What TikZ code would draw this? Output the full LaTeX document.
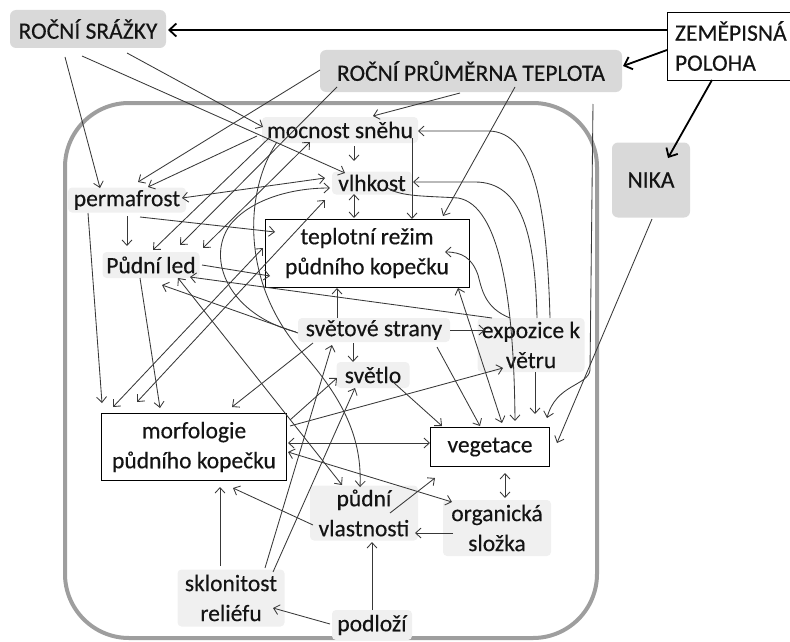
\documentclass[tikz,border=0pt]{standalone}
\usepackage{fontspec}
\setmainfont{Carlito}[FakeBold=0.35]
\usetikzlibrary{arrows.meta}
\newcommand\nd[3]{([shift={(#2,#3)}]#1.center)}
\begin{document}
\begin{tikzpicture}[x=1pt,y=-1pt,
  every node/.style={font=\fontsize{23.5}{30}\selectfont, text=black!92, inner sep=0pt},
  topbox/.style={fill=black!15, rounded corners=6pt},
  softbox/.style={fill=black!6, rounded corners=4pt},
  whitebox/.style={draw=black, fill=white, line width=0.8pt},
  frame/.style={draw=black!38, line width=4pt, rounded corners=64pt},
  arr/.style={draw=black!78, line width=0.85pt, -{Straight Barb[length=5.5pt,width=10pt]}},
  darr/.style={draw=black!78, line width=0.85pt, {Straight Barb[length=5.5pt,width=10pt]}-{Straight Barb[length=5.5pt,width=10pt]}},
  thk/.style={draw=black, line width=1.8pt, -{Straight Barb[length=7pt,width=13pt]}}]
\useasboundingbox (0,0) rectangle (790,642);
\draw[frame] (65,103) rectangle (597,638);

% nodes
\node[topbox, minimum width=156pt, minimum height=38pt] (srazky) at (88,29) {ROČNÍ SRÁŽKY};
\node[whitebox, minimum width=126pt, minimum height=68pt, text width=110pt, align=left, inner xsep=8pt] (zem) at (730,46) {ZEMĚPISNÁ\\POLOHA};
\node[topbox, minimum width=302pt, minimum height=42pt] (teplota) at (471,71) {ROČNÍ PRŮMĚRNA TEPLOTA};
\node[topbox, minimum width=78pt, minimum height=75pt] (nika) at (651,180) {NIKA};
\node[softbox, minimum width=156pt, minimum height=26pt] (mocnost) at (340,130) {mocnost sněhu};
\node[softbox, minimum width=80pt, minimum height=23pt] (vlhkost) at (372,183) {vlhkost};
\node[softbox, minimum width=118pt, minimum height=25pt] (perma) at (127,200) {permafrost};
\node[whitebox, minimum width=204pt, minimum height=68pt, align=center] (tepl) at (367,253) {teplotní režim\\půdního kopečku};
\node[softbox, minimum width=97pt, minimum height=26pt] (led) at (151,265) {Půdní led};
\node[softbox, minimum width=152pt, minimum height=24pt] (svet) at (374,330) {světové strany};
\node[softbox, minimum width=107pt, minimum height=54pt, align=center] (expo) at (531,345) {expozice k\\větru};
\node[softbox, minimum width=73pt, minimum height=26pt] (svetlo) at (373,375) {světlo};
\node[whitebox, minimum width=185pt, minimum height=67pt, align=center] (morf) at (194,447) {morfologie\\půdního kopečku};
\node[whitebox, minimum width=119pt, minimum height=39pt] (veg) at (490,447) {vegetace};
\node[softbox, minimum width=108pt, minimum height=55pt, align=center] (pudvl) at (364,513) {půdní\\vlastnosti};
\node[softbox, minimum width=108pt, minimum height=56pt, align=center] (organ) at (497,528) {organická\\složka};
\node[softbox, minimum width=107pt, minimum height=57pt, align=center] (sklon) at (231,598) {sklonitost\\reliéfu};
\node[softbox, minimum width=80pt, minimum height=30pt] (podl) at (372,625) {podloží};

% thick arrows from ZEMĚPISNÁ POLOHA
\draw[thk] \nd{zem}{-63}{-16} -- \nd{srazky}{80}{1};
\draw[thk] \nd{zem}{-63}{4} -- \nd{teplota}{152}{-5};
\draw[thk] \nd{zem}{-18}{34} -- \nd{nika}{17}{-22};

% ROČNÍ SRÁŽKY
\draw[arr] \nd{srazky}{-23}{28} -- \nd{perma}{-27}{-12};
\draw[arr] \nd{srazky}{-6}{27} -- \nd{vlhkost}{-27}{-10};
\draw[arr] \nd{srazky}{39}{24} -- \nd{mocnost}{-77}{-3};

% ROČNÍ PRŮMĚRNA TEPLOTA
\draw[arr] \nd{teplota}{-151}{-1} -- \nd{perma}{11}{-18};
\draw[arr] \nd{teplota}{-134}{16} -- \nd{led}{29}{-20};
\draw[arr] \nd{teplota}{-11}{22} -- \nd{mocnost}{33}{-14};
\draw[arr] \nd{teplota}{44}{16} -- \nd{tepl}{76}{-37};
\draw[arr] \nd{teplota}{122}{33} -- (590,370) .. controls (588,386) and (556,384) .. \nd{veg}{57}{-29};

% NIKA
\draw[arr] \nd{nika}{1}{39} -- \nd{veg}{67}{-4};

% mocnost sněhu
\draw[arr] \nd{mocnost}{14}{16} -- \nd{vlhkost}{-18}{-22};
\draw[arr] \nd{mocnost}{72}{8} -- \nd{tepl}{45}{-34};
\draw[arr] \nd{mocnost}{-83}{6} -- \nd{perma}{21}{-13};
\draw[arr] \nd{mocnost}{-70}{7} -- \nd{led}{2}{-15};
\draw[darr] \nd{led}{52}{-17} -- \nd{mocnost}{-30}{12};
\draw[arr] \nd{mocnost}{-63}{12} .. controls (245,190) and (240,280) .. (300,350) .. controls (345,400) and (362,440) .. \nd{pudvl}{-4}{-26};

% expozice k větru curves
\draw[arr] \nd{expo}{19}{-27} .. controls (547,210) and (535,131) .. (488,131) -- \nd{mocnost}{78}{1};
\draw[arr] \nd{expo}{6}{-27} .. controls (535,235) and (522,182) .. (475,182) -- \nd{vlhkost}{41}{-1};
\draw[arr] \nd{expo}{-21}{-27} .. controls (485,308) and (482,290) .. (478,275) .. controls (472,258) and (462,252) .. \nd{tepl}{78}{-1};
\draw[arr] \nd{expo}{-39}{-27} -- \nd{led}{39}{12};
\draw[arr] \nd{expo}{4}{27} -- \nd{veg}{45}{-33};

% vlhkost
\draw[arr] \nd{vlhkost}{16}{5} .. controls (400,197) and (430,196) .. (458,198) .. controls (500,205) and (514,300) .. \nd{veg}{25}{-26};
\draw[darr] \nd{vlhkost}{-18}{11} -- \nd{tepl}{-13}{-35};
\draw[darr] \nd{perma}{55}{-2} -- \nd{vlhkost}{-47}{-5};
\draw[darr] \nd{vlhkost}{-47}{17} -- \nd{morf}{-57}{-45};

% permafrost
\draw[arr] \nd{perma}{13}{17} -- \nd{tepl}{-92}{-21};
\draw[arr] \nd{perma}{0}{16} -- \nd{led}{-24}{-19};
\draw[arr] \nd{perma}{-39}{13} -- \nd{morf}{-92}{-44};

% Půdní led
\draw[arr] \nd{led}{51}{0} -- \nd{tepl}{-97}{23};
\draw[arr] \nd{led}{-11}{13} -- \nd{morf}{-34}{-39};
\draw[darr] \nd{led}{27}{13} -- \nd{pudvl}{-22}{-28};

% teplotní režim
\draw[darr] \nd{tepl}{-104}{-5} -- \nd{morf}{-81}{-40};
\draw[darr] \nd{tepl}{91}{35} -- \nd{veg}{12}{-24};

% světové strany
\draw[arr] \nd{svet}{-76}{3} -- \nd{led}{11}{20};
\draw[arr] \nd{svet}{-78}{2} .. controls (230,315) and (205,260) .. (230,225) .. controls (250,200) and (290,188) .. \nd{vlhkost}{-42}{5};
\draw[arr] \nd{svet}{-37}{-12} -- \nd{tepl}{-30}{35};
\draw[arr] \nd{svet}{-21}{13} -- \nd{svetlo}{-20}{-13};
\draw[arr] \nd{svet}{76}{0} -- \nd{expo}{-46}{-15};
\draw[arr] \nd{svet}{-61}{13} -- \nd{morf}{38}{-40};
\draw[arr] \nd{svet}{63}{17} -- \nd{veg}{-10}{-21};

% sklonitost, světlo, morfologie
\draw[arr] \nd{sklon}{34}{-30} -- \nd{svet}{-42}{15};
\draw[arr] \nd{sklon}{42}{-26} -- \nd{svetlo}{-18}{13};
\draw[arr] \nd{morf}{96}{-27} -- \nd{svetlo}{-36}{3};
\draw[arr] \nd{morf}{96}{-21} -- \nd{expo}{-28}{23};
\draw[arr] \nd{svetlo}{20}{7} -- \nd{veg}{-48}{-21};
\draw[darr] \nd{morf}{94}{-4} -- \nd{veg}{-60}{-4};
\draw[darr] \nd{morf}{94}{5} -- \nd{organ}{-45}{-26};
\draw[arr] \nd{pudvl}{-51}{12} -- \nd{morf}{39}{41};
\draw[arr] \nd{sklon}{-11}{-32} -- \nd{morf}{26}{40};

% půdní vlastnosti, organická složka, podloží
\draw[arr] \nd{pudvl}{26}{0} -- \nd{veg}{-55}{31};
\draw[arr] \nd{organ}{-44}{5} -- \nd{pudvl}{51}{20};
\draw[darr] \nd{veg}{15}{26} -- \nd{organ}{8}{-30};
\draw[arr] \nd{podl}{0}{-15} -- \nd{pudvl}{8}{29};
\draw[arr] \nd{podl}{-42}{-1} -- \nd{sklon}{42}{10};
\end{tikzpicture}
\end{document}
